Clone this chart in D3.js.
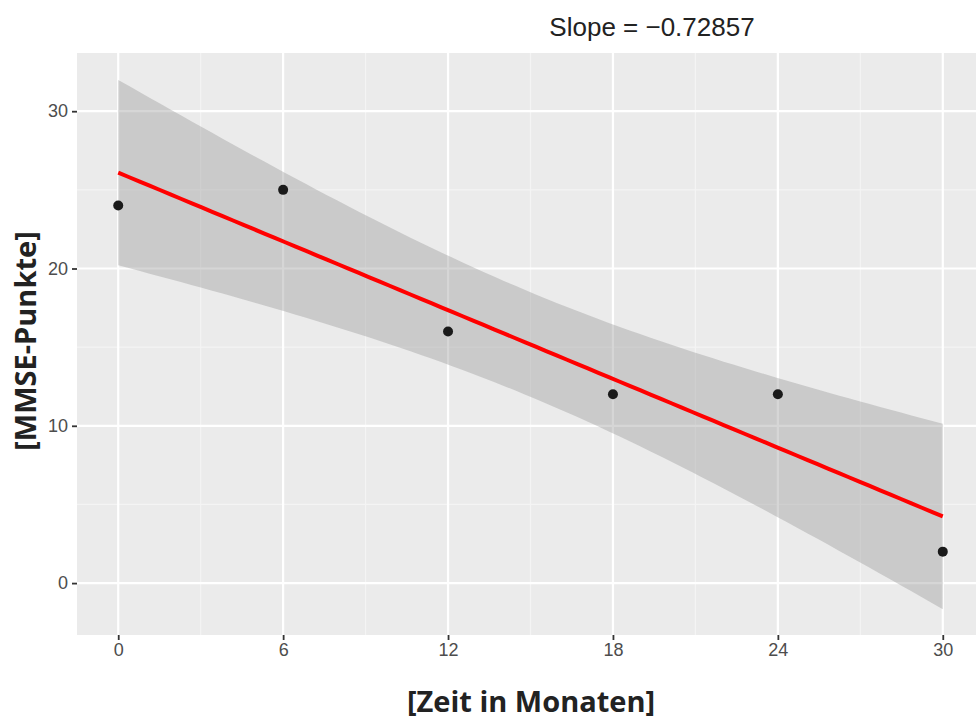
<!DOCTYPE html>
<html>
<head>
<meta charset="utf-8">
<script src="https://cdn.jsdelivr.net/npm/d3@7"></script>
<style>
  body { margin: 0; background: #fff; }
  svg { display: block; }
</style>
</head>
<body>
<div id="chart"></div>
<script>
// data
var months = [0, 6, 12, 18, 24, 30];
var mmse = [24, 25, 16, 12, 12, 2];
var xTicks = [0, 6, 12, 18, 24, 30];
var yTicks = [0, 10, 20, 30];
var titleText = "Slope = \u22120.72857";

const width = 976, height = 719;
// panel area
const panel = { left: 77, top: 53, right: 984, bottom: 635 };

const svg = d3.select("#chart").append("svg")
  .attr("width", width)
  .attr("height", height);

var x = d3.scaleLinear().domain([-1.5, 31.5]).range([panel.left, panel.right]);
var y = d3.scaleLinear().domain([-3.3, 33.7]).range([panel.bottom, panel.top]);

// linear fit with 95% confidence band (like geom_smooth(method = "lm"))
var n = months.length;
var mx = d3.mean(months), my = d3.mean(mmse);
var sxx = d3.sum(months, d => (d - mx) * (d - mx));
var sxy = d3.sum(months, (d, i) => (d - mx) * (mmse[i] - my));
var slope = sxy / sxx;
var intercept = my - slope * mx;
var sse = d3.sum(months, (d, i) => Math.pow(mmse[i] - (intercept + slope * d), 2));
var s = Math.sqrt(sse / (n - 2));
var tCrit = 2.776; // t(0.975, df = 4)

var fit = d3.range(0, 80).map(i => {
  var xv = 30 * i / 79;
  var yv = intercept + slope * xv;
  var se = s * Math.sqrt(1 / n + (xv - mx) * (xv - mx) / sxx);
  return { x: xv, y: yv, lo: yv - tCrit * se, hi: yv + tCrit * se };
});

// panel background
svg.append("rect")
  .attr("x", panel.left).attr("y", panel.top)
  .attr("width", panel.right - panel.left).attr("height", panel.bottom - panel.top)
  .attr("fill", "#ebebeb");

// minor grid
var minorX = [3, 9, 15, 21, 27];
var minorY = [5, 15, 25];
svg.append("g").selectAll("line").data(minorX).enter().append("line")
  .attr("x1", d => x(d)).attr("x2", d => x(d))
  .attr("y1", panel.top).attr("y2", panel.bottom)
  .attr("stroke", "#f4f4f4").attr("stroke-width", 1.2);
svg.append("g").selectAll("line").data(minorY).enter().append("line")
  .attr("y1", d => y(d)).attr("y2", d => y(d))
  .attr("x1", panel.left).attr("x2", panel.right)
  .attr("stroke", "#f4f4f4").attr("stroke-width", 1.2);

// major grid
svg.append("g").selectAll("line").data(xTicks).enter().append("line")
  .attr("x1", d => x(d)).attr("x2", d => x(d))
  .attr("y1", panel.top).attr("y2", panel.bottom)
  .attr("stroke", "#ffffff").attr("stroke-width", 2.2);
svg.append("g").selectAll("line").data(yTicks).enter().append("line")
  .attr("y1", d => y(d)).attr("y2", d => y(d))
  .attr("x1", panel.left).attr("x2", panel.right)
  .attr("stroke", "#ffffff").attr("stroke-width", 2.2);

// confidence band
svg.append("path")
  .datum(fit)
  .attr("fill", "#999999")
  .attr("fill-opacity", 0.4)
  .attr("d", d3.area().x(d => x(d.x)).y0(d => y(d.lo)).y1(d => y(d.hi)));

// points
svg.append("g").selectAll("circle").data(months).enter().append("circle")
  .attr("cx", d => x(d))
  .attr("cy", (d, i) => y(mmse[i]))
  .attr("r", 5)
  .attr("fill", "#1a1a1a");

// regression line
svg.append("path")
  .datum(fit)
  .attr("fill", "none")
  .attr("stroke", "#ff0000")
  .attr("stroke-width", 4)
  .attr("d", d3.line().x(d => x(d.x)).y(d => y(d.y)));

// axes
var xAxis = svg.append("g")
  .attr("transform", "translate(0," + panel.bottom + ")")
  .call(d3.axisBottom(x).tickValues(xTicks).tickSize(5).tickPadding(3).tickSizeOuter(0));
var yAxis = svg.append("g")
  .attr("transform", "translate(" + panel.left + ",0)")
  .call(d3.axisLeft(y).tickValues(yTicks).tickSize(5).tickPadding(4).tickSizeOuter(0));
[xAxis, yAxis].forEach(a => {
  a.select(".domain").remove();
  a.selectAll(".tick line").attr("stroke", "#333").attr("stroke-width", 1.8);
  a.selectAll(".tick text")
    .attr("fill", "#4d4d4d")
    .style("font-family", "Liberation Sans, Arial, sans-serif")
    .style("font-size", "18px");
});

// title
svg.append("text")
  .attr("x", 652).attr("y", 36)
  .attr("text-anchor", "middle")
  .style("font-family", "Liberation Sans, Arial, sans-serif")
  .style("font-size", "26px")
  .attr("fill", "#222")
  .text(titleText);

// axis titles
svg.append("text")
  .attr("x", 531).attr("y", 712)
  .attr("text-anchor", "middle")
  .style("font-family", "Open Sans, sans-serif")
  .style("font-weight", "bold")
  .style("font-size", "29px")
  .attr("fill", "#222")
  .text("[Zeit in Monaten]");

svg.append("text")
  .attr("transform", "translate(36,341) rotate(-90)")
  .attr("text-anchor", "middle")
  .style("font-family", "Open Sans, sans-serif")
  .style("font-weight", "bold")
  .style("font-size", "29px")
  .attr("fill", "#222")
  .text("[MMSE-Punkte]");
</script>
</body>
</html>
